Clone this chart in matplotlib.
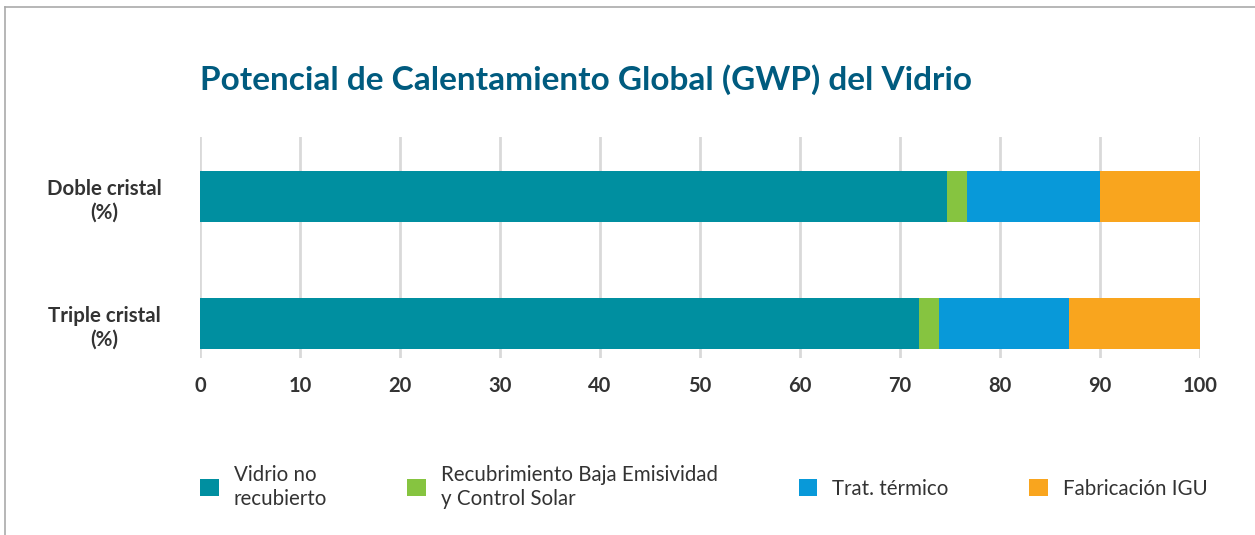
import matplotlib.pyplot as plt
from matplotlib.lines import Line2D
import numpy as np

plt.rcParams['font.family'] = ['Lato', 'DejaVu Sans']

categories = ["Doble cristal\n(%)", "Triple cristal\n(%)"]
series = ["Vidrio no\nrecubierto", "Recubrimiento Baja Emisividad\ny Control Solar",
          "Trat. térmico", "Fabricación IGU"]
vidrio = [74.7, 71.9]
recubrimiento = [2.0, 2.0]
termico = [13.3, 13.0]
igu = [10.0, 13.1]
colors = ["#008FA0", "#86C440", "#0899D9", "#F9A51E"]
ticks = [0, 10, 20, 30, 40, 50, 60, 70, 80, 90, 100]

W, H = 1255, 535
fig = plt.figure(figsize=(W / 100, H / 100), dpi=100)
ax = fig.add_axes([200 / W, 1 - 358 / H, 1000 / W, 221 / H])

y = np.arange(len(categories))
left = np.zeros(len(categories))
for vals, name, c in zip([vidrio, recubrimiento, termico, igu], series, colors):
    ax.barh(y, vals, left=left, height=0.4, color=c, label=name, zorder=3)
    left += np.array(vals)

ax.set_xlim(0, 100)
ax.set_ylim(1.267, -0.467)
ax.set_xticks(ticks)
ax.grid(axis='x', color='#D9D9D9', linewidth=2, zorder=0)
for s in ax.spines.values():
    s.set_visible(False)
ax.tick_params(axis='x', length=0, pad=13, labelsize=14.5, labelcolor='#333333')
ax.tick_params(axis='y', length=0, pad=69, labelsize=14.8, labelcolor='#333333')
ax.set_yticks(y)
ax.set_yticklabels(categories, fontweight='bold', ha='center', multialignment='center',
                   linespacing=1.25)
for t in ax.get_xticklabels():
    t.set_fontweight('bold')

fig.text(200 / W, 1 - 80 / H, "Potencial de Calentamiento Global (GWP) del Vidrio",
         fontsize=24, fontweight='bold', color='#005B7F', va='center', ha='left')

leg = fig.legend(loc='center left', bbox_to_anchor=(200 / W, 1 - 487 / H), ncol=4,
                 frameon=False, fontsize=14.8, handlelength=0.9, handleheight=0.9,
                 handletextpad=0.75, columnspacing=3.9, labelcolor='#333333',
                 borderpad=0, borderaxespad=0)
for t in leg.get_texts():
    t.set_linespacing(1.25)

# light frame of the card (top and left)
fig.add_artist(Line2D([5 / W, 1], [1 - 7 / H, 1 - 7 / H], color='#AAAAAA', linewidth=1.2))
fig.add_artist(Line2D([5 / W, 5 / W], [0, 1 - 7 / H], color='#AAAAAA', linewidth=1.2))

fig.savefig("out.png", dpi=100)
